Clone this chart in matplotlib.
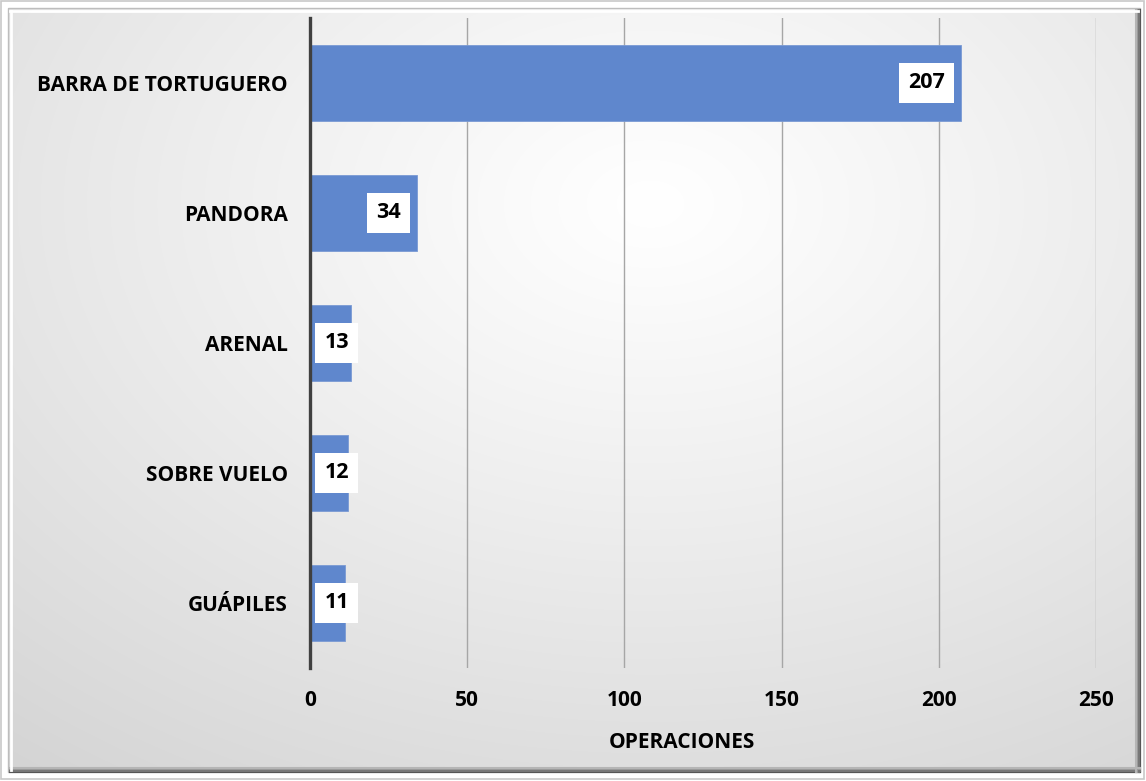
import numpy as np
import matplotlib
matplotlib.use("Agg")
import matplotlib.pyplot as plt
from matplotlib.patches import Rectangle

# data
categories = ["BARRA DE TORTUGUERO", "PANDORA", "ARENAL", "SOBRE VUELO", "GUÁPILES"]
values = [207, 34, 13, 12, 11]
xticks = [0, 50, 100, 150, 200, 250]
xlabel = "OPERACIONES"

plt.rcParams['font.family'] = ['Open Sans', 'DejaVu Sans']
plt.rcParams['font.weight'] = 'bold'

W, H = 1146, 781
fig = plt.figure(figsize=(W / 100, H / 100), dpi=100, facecolor='white')

# background panel with soft gradient and bevelled frame
bg = fig.add_axes([0, 0, 1, 1])
bg.set_xlim(0, W)
bg.set_ylim(H, 0)
bg.axis('off')
yy, xx = np.mgrid[0:H, 0:W]
r = np.sqrt(((xx - 650) / 1000.0) ** 2 + ((yy - 200) / 700.0) ** 2)
shade = np.clip(1.0 - 0.16 * r ** 1.1, 0.83, 1.0)
img = np.dstack([shade, shade, shade])
bg.imshow(img, extent=(8, 1140, 772, 8), zorder=0, interpolation='bilinear')
bg.add_patch(Rectangle((1, 1), W - 3, H - 3, fill=False, ec='#c8c8c8', lw=1.2, zorder=1))
bg.add_patch(Rectangle((8, 8), 1132, 764, fill=False, ec='#bdbdbd', lw=1.0, zorder=1))
# dark shadow on right and bottom
for i, c in enumerate(['#555555', '#777777', '#999999', '#b5b5b5']):
    bg.plot([1140 - i * 1.5, 1140 - i * 1.5], [10, 772], color=c, lw=1.5, zorder=2)
    bg.plot([10, 1140], [772 - i * 1.5, 772 - i * 1.5], color=c, lw=1.5, zorder=2)
# light highlight on top and left
bg.plot([10, 1138], [11, 11], color='white', lw=2, zorder=2)
bg.plot([11, 11], [11, 770], color='white', lw=2, zorder=2)

ax = fig.add_axes([310 / W, 1 - 668 / H, 786 / W, 650 / H])
ax.patch.set_alpha(0)

y = np.arange(len(categories))
ax.barh(y, values, height=0.59, color='#5f87cd', edgecolor='#7a9ad4', lw=0.6, zorder=3)

ax.set_xlim(0, 250)
ax.set_ylim(len(categories) - 0.5, -0.5)
ax.set_xticks(xticks)
ax.set_yticks(y)
ax.set_yticklabels(categories, fontsize=15, fontweight='bold')
ax.set_xticklabels([str(t) for t in xticks], fontsize=15, fontweight='bold')
ax.tick_params(axis='both', length=0)
ax.tick_params(axis='x', pad=16)
ax.tick_params(axis='y', pad=16)

ax.grid(axis='x', color='#a6a6a6', lw=1.0, zorder=1)
for s in ['top', 'right', 'bottom']:
    ax.spines[s].set_visible(False)
ax.spines['left'].set_color('#404040')
ax.spines['left'].set_linewidth(2.4)
ax.spines['left'].set_zorder(4)

ax.set_xlabel(xlabel, fontsize=15, fontweight='bold')
ax.xaxis.set_label_coords(372 / 786, -64 / 650)

# value labels: inside end, kept clear of the zero line for short bars
for yi, v in zip(y, values):
    xr = max(v - 5.1, 12.4)
    ax.text(xr, yi, str(v), ha='right', va='center', fontsize=15.5, fontweight='bold',
            color='black', zorder=5,
            bbox=dict(boxstyle='square,pad=0.42', fc='white', ec='none'))

fig.savefig('out.png', dpi=100)
